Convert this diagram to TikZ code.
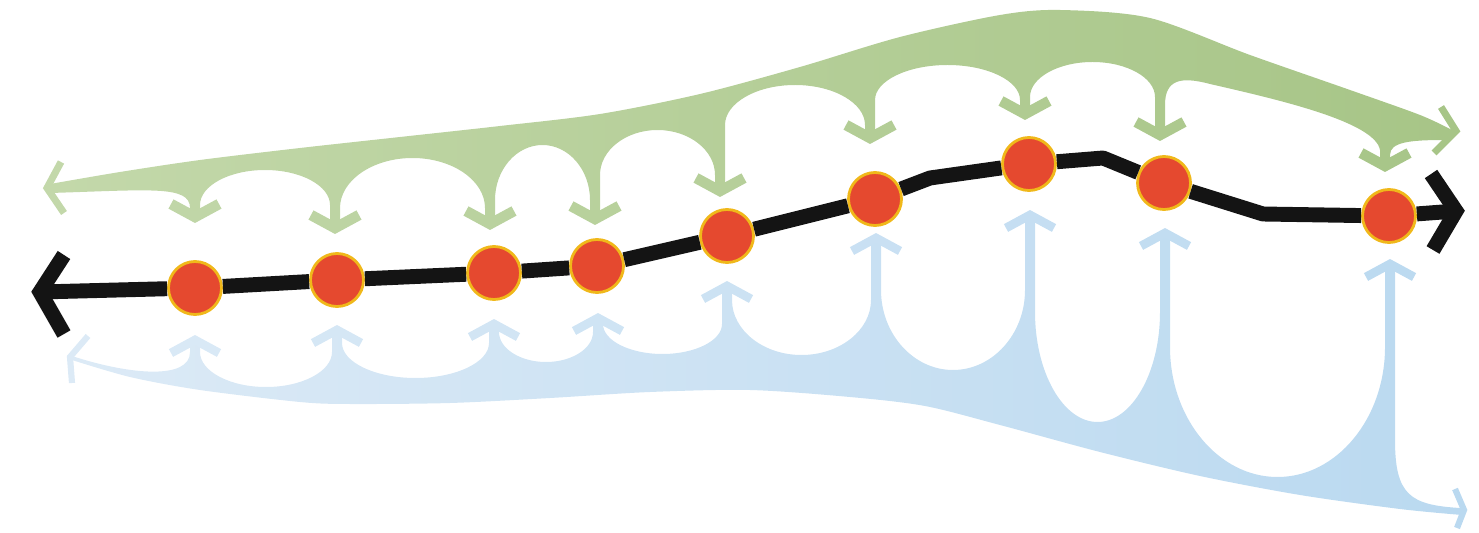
\documentclass[tikz,border=0pt]{standalone}
\usepackage{xcolor}
\usepackage{tikz}
\usetikzlibrary{calc}
\definecolor{grnL}{HTML}{C3D8AA}
\definecolor{grnR}{HTML}{A7C587}
\definecolor{bluL}{HTML}{DCEAF6}
\definecolor{bluR}{HTML}{BAD9F0}
\definecolor{dotred}{HTML}{E5492F}
\definecolor{dotrim}{HTML}{F0B81A}
\definecolor{pathblk}{HTML}{141414}
\tikzset{
  halt/.style={circle, fill=dotred, draw=dotrim, line width=1.6pt, minimum size=1.06cm, inner sep=0pt},
  route/.style={draw=pathblk, line width=8.5pt, line join=round},
  chev/.style={line join=miter, line cap=butt}
}

\begin{document}
\begin{tikzpicture}[x=0.02cm, y=-0.02cm]
\useasboundingbox (0,0) rectangle (1479,533);

% green band, downward stems
\shade[left color=grnL, right color=grnR]
  (50,193) .. controls (150,190) and (190,185) .. (190,208) -- (190,213) -- (200,213)
  \foreach \a/\b/\g/\ry/\tb in {195/335/170/35/228, 335/490/158/50/224, 490/595/145/55/219, 595/720/130/45/191, 720/870/85/40/138, 870/1025/65/35/114, 1025/1160/62/35/135}{
    -- ({\a+5},{\g+\ry}) .. controls ({\a+5},{\g+0.45*\ry}) and ({(\a+\b)/2-0.55*((\b-\a)/2-5)},\g) .. ({(\a+\b)/2},\g)
    .. controls ({(\a+\b)/2+0.55*((\b-\a)/2-5)},\g) and ({\b-5},{\g+0.45*\ry}) .. ({\b-5},{\g+\ry})
    -- ({\b-5},{\tb-4}) -- ({\b+5},{\tb-4})
  }
  -- (1165,105) .. controls (1165,80) and (1180,76) .. (1210,84) .. controls (1280,100) and (1375,122) .. (1380,150)
  -- (1380,162) -- (1390,162) -- (1390,155) .. controls (1390,142) and (1410,140) .. (1445,140) -- (1456,133)
  -- plot[smooth] coordinates {(1452,130) (1420,115) (1350,90) (1250,55) (1150,18) (1060,10) (1000,15) (900,37) (800,67) (700,94) (600,114) (500,126) (400,137) (300,148) (200,160) (120,172) (50,184)} -- cycle;
\foreach \x/\t in {195/217, 335/228, 490/224, 595/219, 720/191, 870/138, 1025/114, 1160/135, 1385/166}{
  \pgfmathtruncatemacro{\p}{(\x-45)/14.1}
  \draw[chev, grnR!\p!grnL, line width=6pt] ({\x-24},{\t-13}) -- (\x,\t) -- ({\x+24},{\t-13});
}
\draw[chev, grnL, line width=4pt] (61,162) -- (47,188) -- (64,213);
\draw[chev, grnR, line width=4pt] (1441,107) -- (1456,131) -- (1434,153);

% blue band, upward stems
\shade[left color=bluL, right color=bluR]
  (72,356) .. controls (130,375) and (190,380) .. (190,352) -- (190,344) -- (200,344)
  \foreach \a/\b/\g/\ry/\tb in {195/337/387/35/330, 337/494/378/35/324, 494/598/362/30/318, 598/727/354/30/286, 727/876/355/55/238, 876/1030/370/80/215, 1030/1165/422/110/233, 1165/1390/477/130/264}{
    -- ({\a+5},{\g-\ry}) .. controls ({\a+5},{\g-0.45*\ry}) and ({(\a+\b)/2-0.55*((\b-\a)/2-5)},\g) .. ({(\a+\b)/2},\g)
    .. controls ({(\a+\b)/2+0.55*((\b-\a)/2-5)},\g) and ({\b-5},{\g-0.45*\ry}) .. ({\b-5},{\g-\ry})
    -- ({\b-5},{\tb+4}) -- ({\b+5},{\tb+4})
  }
  -- (1395,440) .. controls (1395,495) and (1410,505) .. (1460,508) -- (1463,511)
  -- plot[smooth] coordinates {(1462,515) (1400,509) (1300,495) (1200,476) (1100,452) (1000,425) (925,406) (850,397) (750,390) (650,392) (550,398) (450,403) (350,404) (300,402) (200,390) (130,377) (72,360)} -- cycle;
\foreach \x/\t in {195/340, 337/330, 494/324, 598/318, 727/286, 876/238, 1030/215, 1165/233, 1390/264}{
  \pgfmathtruncatemacro{\p}{(\x-70)/13.9}
  \draw[chev, bluR!\p!bluL, line width=5pt] ({\x-24},{\t+13}) -- (\x,\t) -- ({\x+24},{\t+13});
}
\draw[chev, bluL, line width=3.5pt] (88,336) -- (70,357) -- (72,383);
\draw[chev, bluR, line width=3.5pt] (1455,489) -- (1464,510) -- (1457,528);

% the path and its stops
\foreach \n/\x/\y in {1/195/288, 2/337/280, 3/494/273, 4/597/266, 5/727/236, 6/875/199, 7/1029/164, 8/1164/183, 9/1389/216}
  \node[halt] (d\n) at (\x,\y) {};
\coordinate (lend) at (40,292);
\coordinate (k1) at (930,178);
\coordinate (k2) at (1103,158);
\coordinate (k3) at (1263,214);
\coordinate (rend) at (1456,211);
\draw[route] (lend) -- (d1) -- (d2) -- (d3) -- (d4) -- (d5) -- (d6) -- (k1) -- (d7) -- (k2) -- (d8) -- (k3) -- (d9) -- (rend);
\draw[route, chev] (64,255) -- (lend) -- (64,334);
\draw[route, chev] (1431,174) -- (rend) -- (1433,250);
\end{tikzpicture}
\end{document}
